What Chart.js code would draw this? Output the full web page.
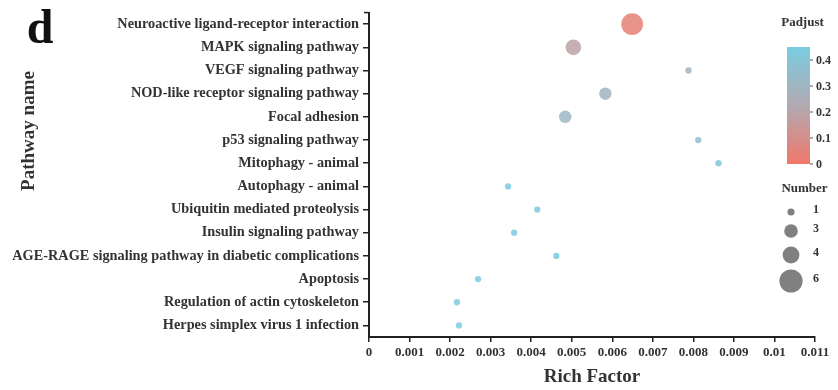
<!DOCTYPE html>
<html>
<head>
    <title>Pathway enrichment</title>
    <script src="https://cdn.jsdelivr.net/npm/chart.js"></script>
    <style>
        body { margin: 0; background: #fff; }
        #wrap { width: 838px; height: 390px; }
    </style>
</head>
<body>
    <div id="wrap"><canvas id="bubble"></canvas></div>

    <script>
        // datos
        var pathways = [
            'Neuroactive ligand-receptor interaction',
            'MAPK signaling pathway',
            'VEGF signaling pathway',
            'NOD-like receptor signaling pathway',
            'Focal adhesion',
            'p53 signaling pathway',
            'Mitophagy - animal',
            'Autophagy - animal',
            'Ubiquitin mediated proteolysis',
            'Insulin signaling pathway',
            'AGE-RAGE signaling pathway in diabetic complications',
            'Apoptosis',
            'Regulation of actin cytoskeleton',
            'Herpes simplex virus 1 infection'
        ];
        var richFactor = [0.00649, 0.00504, 0.00788, 0.00583, 0.00484, 0.00812, 0.00862,
                          0.00343, 0.00415, 0.00358, 0.00462, 0.00269, 0.00217, 0.00222];
        var padjust = [0.04, 0.19, 0.29, 0.30, 0.31, 0.36, 0.42,
                       0.44, 0.44, 0.44, 0.44, 0.45, 0.45, 0.45];
        var geneNumber = [6, 4, 1, 3, 3, 1, 1, 1, 1, 1, 1, 1, 1, 1];

        var xTicks = [0, 0.001, 0.002, 0.003, 0.004, 0.005, 0.006, 0.007, 0.008, 0.009, 0.01, 0.011];
        var xTickLabels = ['0', '0.001', '0.002', '0.003', '0.004', '0.005', '0.006', '0.007', '0.008', '0.009', '0.01', '0.011'];
        var padjTicks = [0, 0.1, 0.2, 0.3, 0.4];
        var padjTickLabels = ['0', '0.1', '0.2', '0.3', '0.4'];
        var numberLegend = [1, 3, 4, 6];

        var padjMax = 0.45;
        var serif = '"Liberation Serif", "Times New Roman", serif';

        // rojo -> gris -> azul
        function padjColor(p) {
            var stops = [
                [0, [240, 120, 106]],
                [0.5, [178, 170, 178]],
                [1, [122, 204, 224]]
            ];
            var t = Math.max(0, Math.min(1, p / padjMax));
            for (var i = 0; i < stops.length - 1; i++) {
                var a = stops[i], b = stops[i + 1];
                if (t <= b[0]) {
                    var f = (t - a[0]) / (b[0] - a[0]);
                    var c = a[1].map(function(v, k) { return Math.round(v + (b[1][k] - v) * f); });
                    return 'rgb(' + c.join(',') + ')';
                }
            }
            return 'rgb(122,204,224)';
        }
        function pointColor(p) {
            return padjColor(p).replace('rgb(', 'rgba(').replace(')', ',0.85)');
        }
        function radiusFor(n) { return 1.6 + 1.55 * n; }
        function legendRadius(n) { return 2 + 1.6 * n; }

        var decor = {
            id: 'decor',
            afterDraw: function(chart) {
                var c = chart.ctx;
                var area = chart.chartArea;
                c.save();
                c.fillStyle = '#111';
                c.textAlign = 'center';
                c.textBaseline = 'middle';

                c.font = 'bold 48px ' + serif;
                c.fillText('d', 40, 31);

                c.fillStyle = '#333';
                c.font = 'bold 19px ' + serif;
                c.fillText('Rich Factor', (area.left + area.right) / 2, 377);

                c.save();
                c.translate(29, 131);
                c.rotate(-Math.PI / 2);
                c.font = 'bold 19px ' + serif;
                c.fillText('Pathway name', 0, 0);
                c.restore();

                // tick en el extremo superior del eje y
                c.strokeStyle = '#222';
                c.lineWidth = 1.5;
                c.beginPath();
                c.moveTo(area.left - 5, area.top); c.lineTo(area.left, area.top);
                c.stroke();

                // barra de color Padjust
                var bx = 787, bw = 23, bTop = 47, bBot = 164;
                var yOf = function(v) { return bBot - (v / padjMax) * (bBot - bTop); };
                var g = c.createLinearGradient(0, bBot, 0, bTop);
                for (var s = 0; s <= 10; s++) {
                    g.addColorStop(s / 10, padjColor(padjMax * s / 10));
                }
                c.fillStyle = g;
                c.fillRect(bx, bTop, bw, bBot - bTop);

                c.fillStyle = '#333';
                c.font = 'bold 13px ' + serif;
                c.fillText('Padjust', bx + bw / 2 + 4, 23);
                c.textAlign = 'left';
                c.font = 'bold 12px ' + serif;
                c.strokeStyle = '#555';
                c.lineWidth = 1;
                padjTicks.forEach(function(v, i) {
                    var y = yOf(v);
                    c.beginPath();
                    c.moveTo(bx + bw, y); c.lineTo(bx + bw + 3, y);
                    c.stroke();
                    c.fillText(padjTickLabels[i], bx + bw + 6, y + 1);
                });

                // leyenda de tamaño
                c.textAlign = 'center';
                c.font = 'bold 13px ' + serif;
                c.fillText('Number', bx + bw / 2 + 6, 189);
                var ys = [212, 231, 255, 281];
                c.font = 'bold 12px ' + serif;
                numberLegend.forEach(function(n, i) {
                    c.fillStyle = 'rgb(128,128,128)';
                    c.beginPath();
                    c.arc(791, ys[i], legendRadius(n), 0, Math.PI * 2);
                    c.fill();
                    c.fillStyle = '#333';
                    c.textAlign = 'left';
                    c.fillText(String(n), 813, ys[i] - 2);
                });
                c.restore();
            }
        };

        var ctx = document.getElementById('bubble').getContext('2d');
        var chart = new Chart(ctx, {
            type: 'scatter',
            data: {
                labels: pathways,
                datasets: [{
                    data: pathways.map(function(p, i) { return { x: richFactor[i], y: p }; }),
                    pointRadius: function(c) { return radiusFor(geneNumber[c.dataIndex]); },
                    pointBackgroundColor: function(c) { return pointColor(padjust[c.dataIndex]); },
                    pointBorderWidth: 0,
                    pointHoverRadius: function(c) { return radiusFor(geneNumber[c.dataIndex]); }
                }]
            },
            options: {
                responsive: true,
                maintainAspectRatio: false,
                animation: false,
                layout: { padding: { top: 10, right: 23, left: 0, bottom: 0 } },
                plugins: { legend: { display: false }, tooltip: { enabled: false } },
                scales: {
                    x: {
                        type: 'linear',
                        min: 0,
                        max: 0.011,
                        afterBuildTicks: function(s) { s.ticks = xTicks.map(function(v) { return { value: v }; }); },
                        afterFit: function(s) { s.height = 53; },
                        ticks: {
                            autoSkip: false,
                            maxRotation: 0,
                            padding: 3,
                            color: '#333',
                            font: { family: serif, size: 13, weight: 'bold' },
                            callback: function(v, i) { return xTickLabels[i]; }
                        },
                        grid: { drawOnChartArea: false, drawTicks: true, tickLength: 5, color: '#222', lineWidth: 1.5 },
                        border: { color: '#222', width: 2 }
                    },
                    y: {
                        type: 'category',
                        labels: pathways,
                        offset: true,
                        afterFit: function(s) { s.width = 369; },
                        ticks: {
                            autoSkip: false,
                            padding: 4,
                            color: '#333',
                            font: { family: serif, size: 14.3, weight: 'bold' }
                        },
                        grid: { offset: false, drawOnChartArea: false, drawTicks: true, tickLength: 6, color: '#222', lineWidth: 1.5 },
                        border: { color: '#222', width: 2 }
                    }
                }
            },
            plugins: [decor]
        });
    </script>
</body>
</html>
